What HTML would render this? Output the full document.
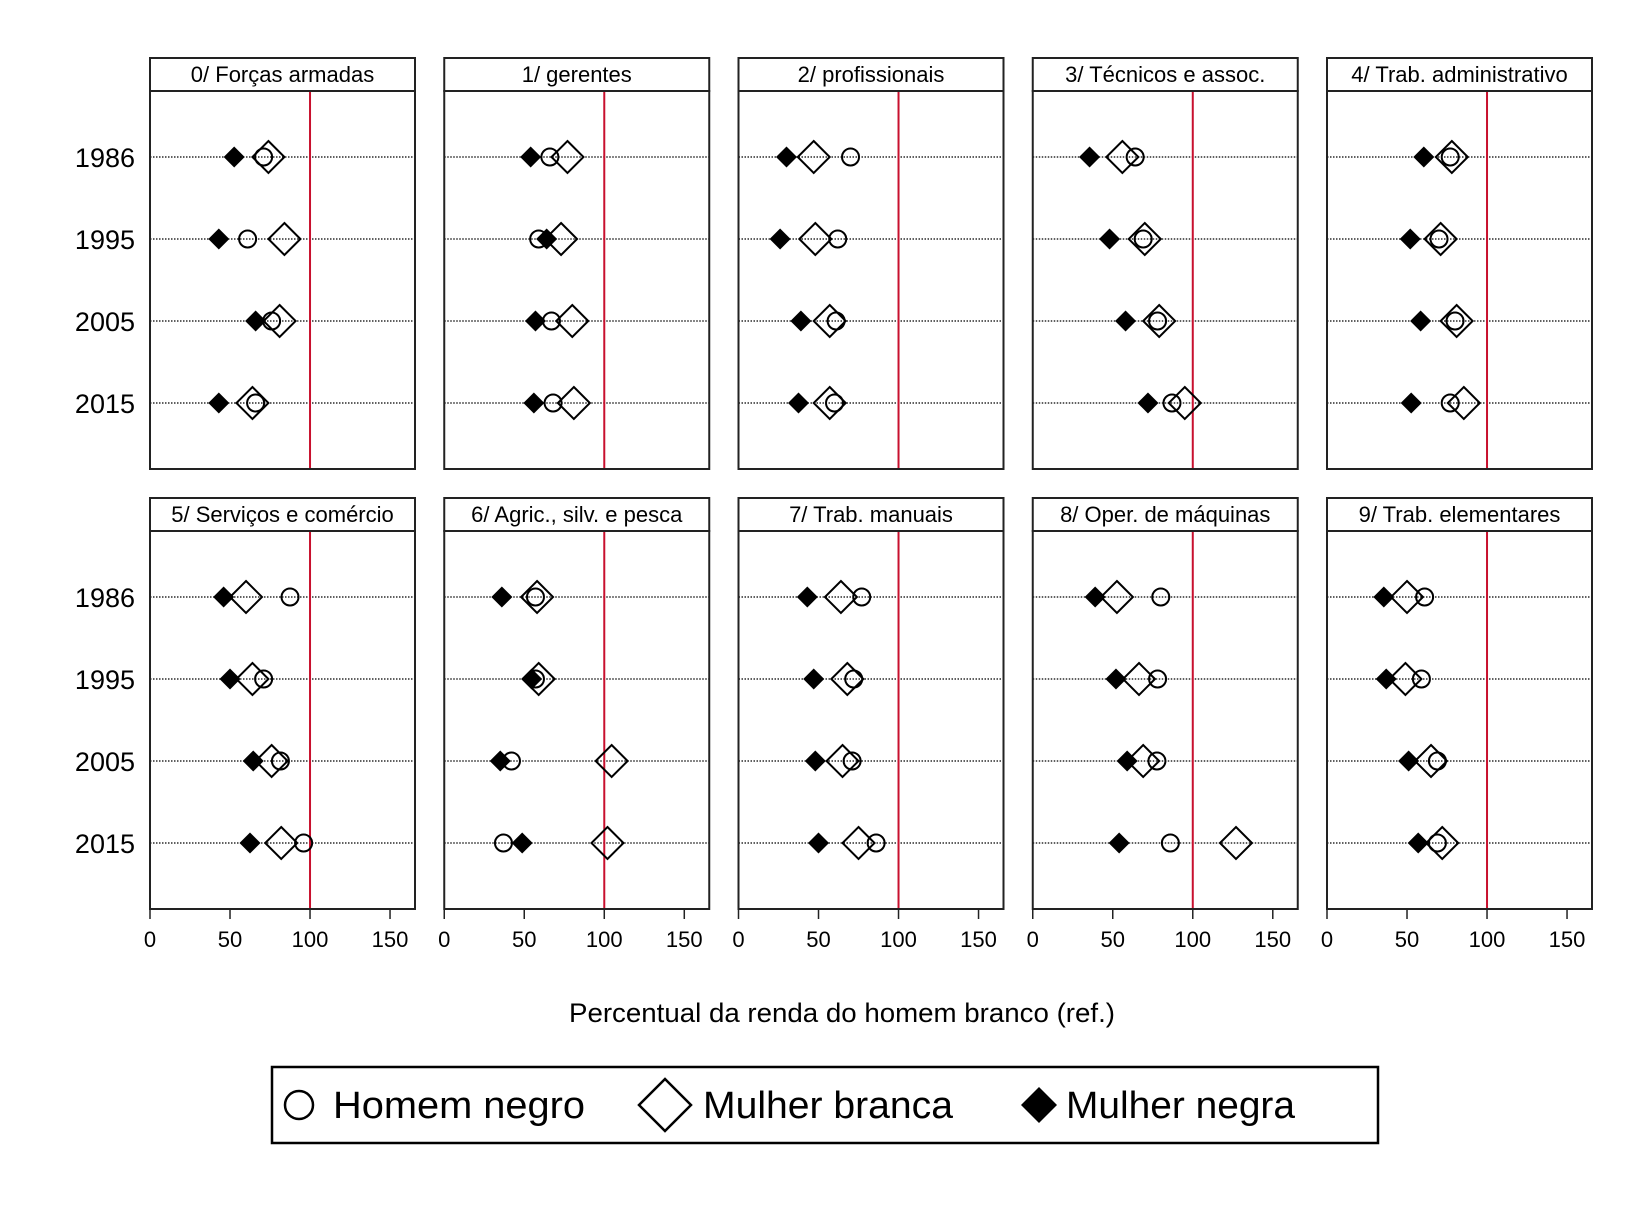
<!DOCTYPE html>
<html><head><meta charset="utf-8"><style>
html,body{margin:0;padding:0;background:#fff}
svg text{font-family:"Liberation Sans",sans-serif;fill:#000}
</style></head><body>
<svg id="chart" width="1650" height="1201" viewBox="0 0 1650 1201" xmlns="http://www.w3.org/2000/svg">
<g id="panels"></g>
<text x="842" y="1022" font-size="27" text-anchor="middle" textLength="546" lengthAdjust="spacingAndGlyphs">Percentual da renda do homem branco (ref.)</text>
<g>
<rect x="272" y="1067" width="1106" height="76" fill="none" stroke="#000" stroke-width="2.5"/>
<circle cx="299" cy="1105" r="14" fill="none" stroke="#000" stroke-width="2.5"/>
<text x="333" y="1118" font-size="38" textLength="252" lengthAdjust="spacingAndGlyphs">Homem negro</text>
<polygon points="665,1079 691,1105 665,1131 639,1105" fill="none" stroke="#000" stroke-width="2.5"/>
<text x="703" y="1118" font-size="38" textLength="250" lengthAdjust="spacingAndGlyphs">Mulher branca</text>
<polygon points="1039,1087 1057,1105 1039,1123 1021,1105" fill="#000"/>
<text x="1066" y="1118" font-size="38" textLength="229" lengthAdjust="spacingAndGlyphs">Mulher negra</text>
</g>
</svg>
<script>
const panelTitles = ["0/ Forças armadas","1/ gerentes","2/ profissionais","3/ Técnicos e assoc.","4/ Trab. administrativo","5/ Serviços e comércio","6/ Agric., silv. e pesca","7/ Trab. manuais","8/ Oper. de máquinas","9/ Trab. elementares"];
const years = ["1986","1995","2005","2015"];
const xTicks = [0,50,100,150];
const refValue = 100;
// values per panel, per year
const homemNegro = [
 [71,61,76,66],[66,59,67,68],[70,62,61,60],[64,69,78,87],[77,70,80,77],
 [87.5,71,81.5,96],[57,57,42,37],[77,72,71,86],[80,78,77.6,86],[61,59,69,69]];
const mulherBranca = [
 [74,84,81,64],[77,73,80,81],[47,48,57,57],[56,70,79,95],[78,71,81,85.5],
 [60,64,76,82],[58,59,104.6,102],[64,68,65,75],[52.6,66.4,69,127],[50,49,65,72]];
const mulherNegra = [
 [52.6,43,66,43],[54,64,57,56],[30,26,39,37.5],[35.5,48,58,72],[60.5,52,58.5,52.6],
 [46,50,64.5,62.5],[36,54.6,35,48.7],[43,47,48,50],[39,52,59,54],[35.5,37,51,57]];

const NS="http://www.w3.org/2000/svg";
const root=document.getElementById('panels');
const PW=265, XMAX=165.6;
function mk(tag,attrs,parent){const e=document.createElementNS(NS,tag);for(const k in attrs)e.setAttribute(k,attrs[k]);parent.appendChild(e);return e;}
function panelLeft(i){return 150+(i%5)*294.25;}
function stripTop(i){return 58+Math.floor(i/5)*440;}
function xScale(i,v){return panelLeft(i)+v/XMAX*PW;}
function yScale(i,j){return stripTop(i)+99+j*82;}

panelTitles.forEach((t,i)=>{
  const g=mk('g',{},root);
  
  
  const L=panelLeft(i), T=stripTop(i), B=T+411;
  const strip=mk('rect',{x:L,y:T,width:PW,height:33,fill:'#fff',stroke:'#222','stroke-width':2},g);
  
  
  const tt=mk('text',{x:L+PW/2,y:T+24,'font-size':22,'text-anchor':'middle'},g);
  tt.textContent=t;
  
  
  // grid lines
  years.forEach((y,j)=>{
    const ln=mk('line',{x1:L,x2:L+PW,y1:yScale(i,j),y2:yScale(i,j),stroke:'#000','stroke-width':1.2,'stroke-dasharray':'1.5 1.5'},g);
    
    
    if(i%5===0){
      const yl=mk('text',{x:135,y:yScale(i,j)+10,'font-size':27,'text-anchor':'end'},g);
      yl.textContent=y;
      
      
    }
  });
  const rl=mk('line',{x1:xScale(i,refValue),x2:xScale(i,refValue),y1:T+33,y2:B,stroke:'#c8102e','stroke-width':2},g);
  
  
  const fr=mk('rect',{x:L,y:T+33,width:PW,height:411-33,fill:'none',stroke:'#222','stroke-width':2},g);
  
  
  if(Math.floor(i/5)===1){
    xTicks.forEach(v=>{
      const tk=mk('line',{x1:xScale(i,v),x2:xScale(i,v),y1:B,y2:B+10,stroke:'#222','stroke-width':1.5},g);
      
      
      const tl=mk('text',{x:xScale(i,v),y:B+38,'font-size':22,'text-anchor':'middle'},g);
      tl.textContent=String(v);
      
      
    });
  }
  years.forEach((y,j)=>{
    const cy=yScale(i,j);
    let x=xScale(i,mulherNegra[i][j]);
    const fd=mk('polygon',{points:`${x},${cy-10.5} ${x+10.5},${cy} ${x},${cy+10.5} ${x-10.5},${cy}`,fill:'#000'},g);
    
    
    x=xScale(i,mulherBranca[i][j]);
    const od=mk('polygon',{points:`${x},${cy-16} ${x+16},${cy} ${x},${cy+16} ${x-16},${cy}`,fill:'none',stroke:'#000','stroke-width':2},g);
    
    
    x=xScale(i,homemNegro[i][j]);
    const c=mk('circle',{cx:x,cy:cy,r:8.5,fill:'none',stroke:'#000','stroke-width':2},g);
    
    
  });
});
</script>
</body></html>
